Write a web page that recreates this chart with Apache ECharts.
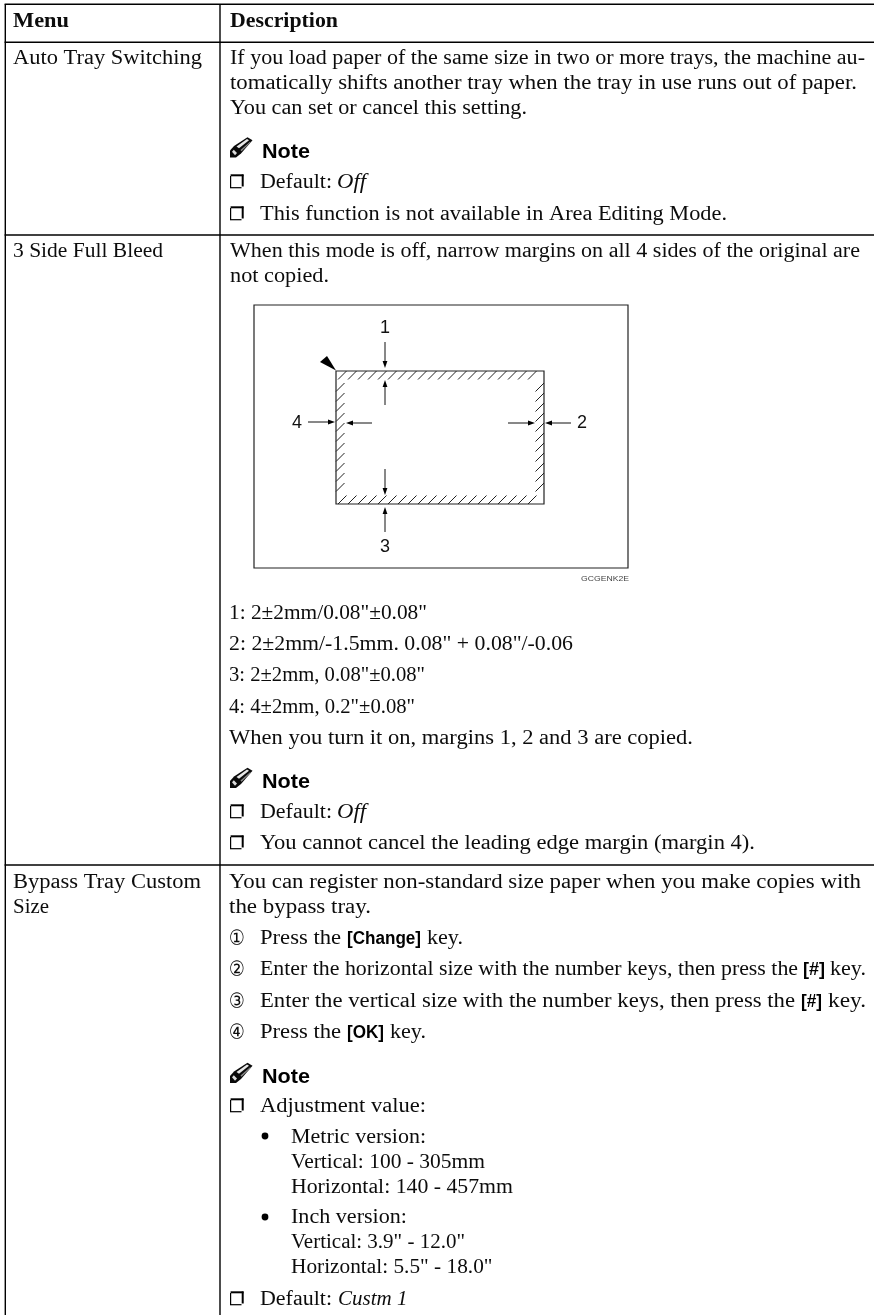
<!DOCTYPE html>
<html>
<head>
<meta charset="utf-8">
<style>html,body{margin:0;padding:0;background:#fff}#c{width:874px;height:1315px}</style>
<script src="https://cdn.jsdelivr.net/npm/echarts@6/dist/echarts.min.js"></script>
</head>
<body>
<div id="c"></div>
<script>
// ---------- content ----------
const headerLabels = ['Menu', 'Description'];
const menuLabels = ['Auto Tray Switching', '3 Side Full Bleed', 'Bypass Tray Custom', 'Size'];
const noteTitle = 'Note';
const row1Lines = [
  'If you load paper of the same size in two or more trays, the machine au-',
  'tomatically shifts another tray when the tray in use runs out of paper.',
  'You can set or cancel this setting.',
  'This function is not available in Area Editing Mode.'
];
const row2Lines = [
  'When this mode is off, narrow margins on all 4 sides of the original are',
  'not copied.',
  '1: 2±2mm/0.08"±0.08"',
  '2: 2±2mm/-1.5mm. 0.08" + 0.08"/-0.06',
  '3: 2±2mm, 0.08"±0.08"',
  '4: 4±2mm, 0.2"±0.08"',
  'When you turn it on, margins 1, 2 and 3 are copied.',
  'You cannot cancel the leading edge margin (margin 4).'
];
const row3Lines = [
  'You can register non-standard size paper when you make copies with',
  'the bypass tray.',
  'Press the', 'key.',
  'Enter the horizontal size with the number keys, then press the', 'key.',
  'Enter the vertical size with the number keys, then press the', 'key.',
  'Press the', 'key.',
  'Adjustment value:',
  'Metric version:', 'Vertical: 100 - 305mm', 'Horizontal: 140 - 457mm',
  'Inch version:', 'Vertical: 3.9" - 12.0"', 'Horizontal: 5.5" - 18.0"'
];
const keyLabels = ['[Change]', '[#]', '[#]', '[OK]'];
const defaultLabel = 'Default:';
const defaultValues = ['Off', 'Off', 'Custm 1'];
const stepMarks = ['①', '②', '③', '④'];
const diagramLabels = ['1', '2', '3', '4'];
const figureCode = 'GCGENK2E';

// ---------- layout: [left, right, baseline] ----------
const headerPos = [[13, 69, 26.7], [230, 338, 26.7]];
const menuPos = [[13, 202, 64], [13, 163, 256.7], [13, 201, 888], [13, 49, 913]];
const row1Pos = [[230, 865, 64], [230, 857, 89.3], [230, 527, 114], [260, 727, 220]];
const row2Pos = [[230, 860, 256.7], [230, 329, 281.7], [229, 427, 619], [229, 573, 650],
  [229, 425, 681], [229, 415, 713], [229, 693, 744], [260, 755, 849]];
const row3Pos = [[229, 861, 888], [229, 371, 913],
  [260, 341, 944], [427, 463, 944],
  [260, 798, 975], [830, 866, 975],
  [260, 795, 1006.5], [828, 866, 1006.5],
  [260, 341, 1038], [390, 426, 1038],
  [260, 426, 1112],
  [291, 426, 1143], [291, 485, 1168], [291, 513, 1193],
  [291, 407, 1223], [291, 465, 1248], [291, 492.5, 1273]];
const keyPos = [[347, 421, 944], [803, 825, 975], [801, 822, 1006.5], [347, 384, 1038]];
const notePos = [[262, 310, 157.5], [262, 310, 788], [262, 310, 1083]];
const defaultPos = [[260, 332, 188], [260, 332, 818], [260, 332, 1305]];
const defaultValuePos = [[337, 366, 188], [337, 366, 818], [338, 407.5, 1305]];
const boxBaselines = [188, 220, 818, 849, 1112, 1305];
const stepBaselines = [944, 975, 1006.5, 1038];
const bulletCentres = [[265, 1136], [265, 1217]];
const tableH = [4.3, 42.3, 235, 865];
const tableV = [5.3, 220];
const frame = [254, 305, 374, 263];
const bleed = [336, 371, 208, 133];
const diagramLabelPos = [[385, 328], [582, 423], [385, 547], [297, 423]];
const arrowPos = [
  [385, 342, 385, 368], [385, 405, 385, 380],
  [571, 423, 545, 423], [508, 423, 535, 423],
  [385, 532, 385, 507], [385, 469, 385, 495],
  [308, 422, 335, 422], [372, 423, 346, 423]
];
const cornerMark = [[336, 370.5], [320, 362], [327, 356]];

// ---------- helpers ----------
const SERIF = '"Liberation Serif"', SANS = '"Liberation Sans"';
const ctx = document.createElement('canvas').getContext('2d');
const g = [];
function text(str, pos, family, size, weight, color, fontStyle) {
  const font = (fontStyle || 'normal') + ' ' + (weight || 'normal') + ' ' + size + 'px ' + family;
  ctx.font = font;
  ctx.textBaseline = 'middle';
  const m = ctx.measureText(str);
  const off = m.alphabeticBaseline !== undefined ? -m.alphabeticBaseline : 0.3 * size;
  const s = (pos[1] - pos[0]) / m.width;
  g.push({
    type: 'text', silent: true, x: pos[0], y: pos[2] - off, scaleX: s, scaleY: 1,
    style: { text: str, x: 0, y: 0, font: font, fill: color || '#0c0c0c', align: 'left', verticalAlign: 'middle' }
  });
}
function line(x1, y1, x2, y2, w, col) {
  g.push({ type: 'line', silent: true, shape: { x1, y1, x2, y2 }, style: { stroke: col || '#000', lineWidth: w } });
}
function poly(points, fill) {
  g.push({ type: 'polygon', silent: true, shape: { points }, style: { fill: fill } });
}
function pencil(bx, by) {
  // bx, by: the pencil point, at the lower-left of the glyph
  const P = a => a.map(p => [bx + p[0], by + p[1] * 0.88]);
  poly(P([[0, 0], [0, -8], [4, -13], [17.5, -23], [22.5, -19.5], [11, -4.5], [6, 0]]), '#0a0a0a');
  poly(P([[6.5, -12.5], [17, -21], [19, -19.5], [9, -10.5]]), '#e8e8e8');
  poly(P([[10.5, -8.5], [20, -18], [20.8, -17.2], [11.5, -7]]), '#8a8a8a');
  poly(P([[2, -6.5], [3.8, -8.8], [7, -5], [5, -2.6]]), '#dcdcdc');
}
function checkbox(base) {
  const x = 230, y = base - 13.5, w = 13.5, h = 13.5;
  line(x + 0.6, y + 1.5, x + 0.6, y + h, 1.2);
  line(x, y + h - 0.3, x + w - 2, y + h - 0.3, 1.2);
  line(x + 0.6, y + 0.8, x + w, y + 0.8, 2);
  line(x + w - 0.8, y, x + w - 0.8, y + h - 1.5, 2);
}
function arrow(a) {
  const [x1, y1, x2, y2] = a;
  const d = Math.hypot(x2 - x1, y2 - y1), ux = (x2 - x1) / d, uy = (y2 - y1) / d;
  line(x1, y1, x2 - ux * 5, y2 - uy * 5, 1, '#111');
  poly([[x2, y2], [x2 - ux * 7 - uy * 2.4, y2 - uy * 7 + ux * 2.4], [x2 - ux * 7 + uy * 2.4, y2 - uy * 7 - ux * 2.4]], '#000');
}

// ---------- table ----------
tableH.forEach(y => line(tableV[0] - 0.7, y, 874, y, 1.4));
tableV.forEach(x => line(x, tableH[0], x, 1315, 1.4));
headerLabels.forEach((t, i) => text(t, headerPos[i], SERIF, 20, 'bold'));
menuLabels.forEach((t, i) => text(t, menuPos[i], SERIF, 20));
row1Lines.forEach((t, i) => text(t, row1Pos[i], SERIF, 20));
row2Lines.forEach((t, i) => text(t, row2Pos[i], SERIF, 20));
row3Lines.forEach((t, i) => text(t, row3Pos[i], SERIF, 20));
keyLabels.forEach((t, i) => text(t, keyPos[i], SANS, 18, 'bold', '#000'));
notePos.forEach(p => { text(noteTitle, p, SANS, 21, 'bold', '#000'); pencil(230, p[2]); });
defaultPos.forEach(p => text(defaultLabel, p, SERIF, 20));
defaultValues.forEach((t, i) => text(t, defaultValuePos[i], SERIF, 20, 'normal', '#0c0c0c', 'italic'));
boxBaselines.forEach(checkbox);
stepMarks.forEach((t, i) => text(t, [229, 245, stepBaselines[i] + 1], '"DejaVu Sans"', 21));
bulletCentres.forEach(c => g.push({ type: 'circle', silent: true, shape: { cx: c[0], cy: c[1], r: 3.4 }, style: { fill: '#000' } }));

// ---------- figure ----------
g.push({ type: 'rect', silent: true, shape: { x: frame[0], y: frame[1], width: frame[2], height: frame[3] },
  style: { fill: 'none', stroke: '#222', lineWidth: 1.2 } });
const [bx, by, bw, bh] = bleed, band = 8.5, step = 10;
for (let x = bx + 2; x + band <= bx + bw + 0.5; x += step) {
  line(x, by + band, x + band, by, 1, '#222');
  line(x, by + bh, x + band, by + bh - band, 1, '#222');
}
for (let y = by + 12; y + band <= by + bh - 4; y += step) {
  line(bx, y + band, bx + band, y, 1, '#222');
  line(bx + bw - band, y + band, bx + bw, y, 1, '#222');
}
g.push({ type: 'rect', silent: true, shape: { x: bx, y: by, width: bw, height: bh },
  style: { fill: 'none', stroke: '#222', lineWidth: 1.2 } });
poly(cornerMark, '#000');
arrowPos.forEach(arrow);
diagramLabels.forEach((t, i) => {
  const c = diagramLabelPos[i];
  g.push({ type: 'text', silent: true, x: c[0], y: c[1],
    style: { text: t, x: 0, y: 0, font: '18px ' + SANS, fill: '#111', align: 'center', verticalAlign: 'middle' } });
});
text(figureCode, [581, 629, 581], SANS, 8, 'normal', '#444');

const chart = echarts.init(document.getElementById('c'), null, { renderer: 'canvas', width: 874, height: 1315 });
chart.setOption({ animation: false, backgroundColor: '#fff', graphic: { elements: g } });
</script>
</body>
</html>
